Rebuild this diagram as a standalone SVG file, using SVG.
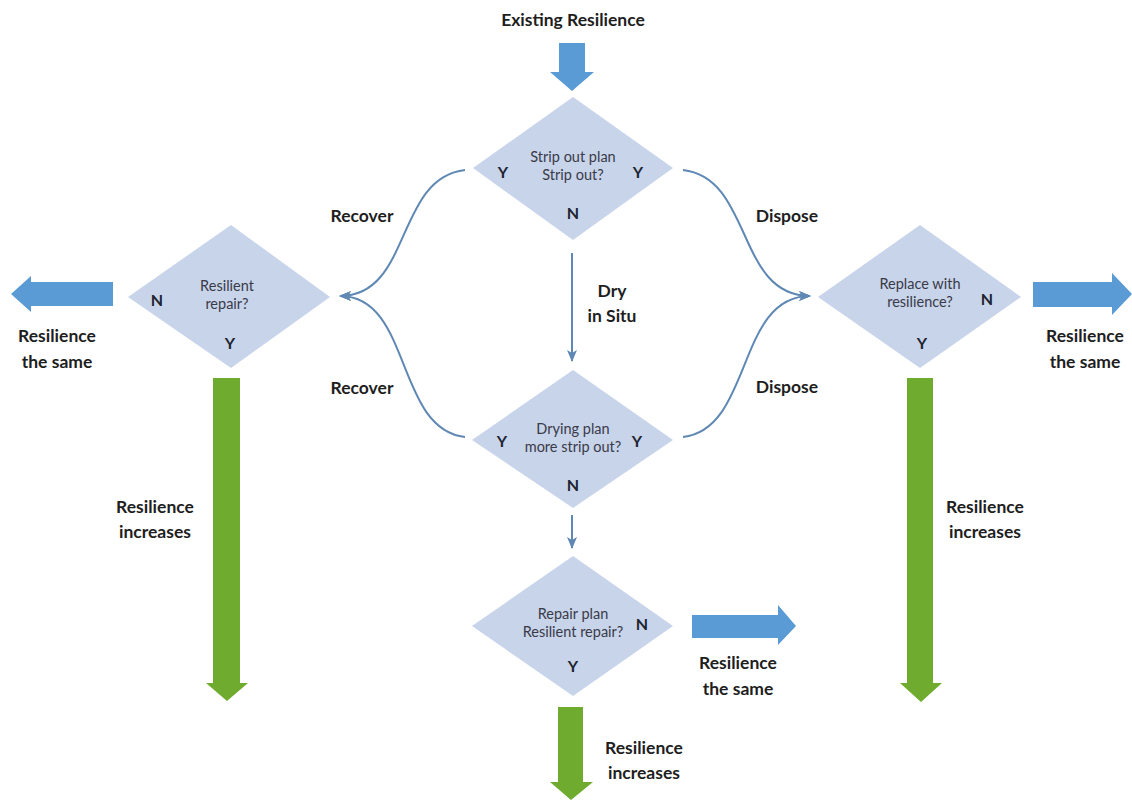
<svg xmlns="http://www.w3.org/2000/svg" width="1132" height="800" viewBox="0 0 1132 800">
<defs>
<style>
.dia{fill:#c7d4ea;}
.lbl{font-family:Lato,"Open Sans","Liberation Sans",sans-serif;font-weight:bold;font-size:17.5px;fill:#1e1e1e;text-anchor:middle;}
.dt{font-family:Lato,"Open Sans","Liberation Sans",sans-serif;font-size:14.5px;fill:#3a3a48;text-anchor:middle;}
.yn{font-family:Lato,"Open Sans","Liberation Sans",sans-serif;font-weight:bold;font-size:16px;fill:#1e2430;text-anchor:middle;}
.con{fill:none;stroke:#5f88b4;stroke-width:2;}
.blue{fill:#5b9bd5;}
.green{fill:#6fab2e;}
</style>
<marker id="ah" viewBox="0 0 12 10" refX="11" refY="5" markerWidth="6" markerHeight="5" orient="auto" markerUnits="strokeWidth">
<path d="M0,0 L12,5 L0,10 L3,5 Z" fill="#5f88b4"/>
</marker>
</defs>
<rect width="1132" height="800" fill="#ffffff"/>

<g id="title">
<text class="lbl" x="573" y="26">Existing Resilience</text>
</g>

<g id="arrows">
<path class="blue" d="M559,43 H585 V72 H594 L572,91 L550,72 H559 Z"/>
<path class="blue" d="M113,282 V306 H31 V312 L11,294 L31,276 V282 Z"/>
<path class="blue" d="M1033,282 V307 H1112 V315 L1132,294 L1112,273 V282 Z"/>
<path class="blue" d="M692,615 V638 H778 V645 L796,626 L778,605 V615 Z"/>
<path class="green" d="M213,378 H240 V683 H248 L227,701 L206,683 H213 Z"/>
<path class="green" d="M907,378 H933 V683 H942 L921,702 L900,683 H907 Z"/>
<path class="green" d="M558,707 H583 V782 H593 L571,800 L550,782 H558 Z"/>
</g>

<g id="connectors">
<path class="con" d="M465,170 C395,178 412,296 340,296" marker-end="url(#ah)"/>
<path class="con" d="M465,437 C395,429 412,296 340,296" marker-end="url(#ah)"/>
<path class="con" d="M683,170 C753,178 736,296 810,296" marker-end="url(#ah)"/>
<path class="con" d="M683,437 C753,429 736,296 810,296" marker-end="url(#ah)"/>
<path class="con" d="M572,253 V361" marker-end="url(#ah)"/>
<path class="con" d="M572,515 V548" marker-end="url(#ah)"/>
</g>

<g id="n-stripout">
<polygon class="dia" points="573,97 673,168 573,240 473,168"/>
<text class="dt" x="573" y="162">Strip out plan</text>
<text class="dt" x="573" y="180">Strip out?</text>
<text class="yn" x="503" y="178">Y</text>
<text class="yn" x="638" y="178">Y</text>
<text class="yn" x="573" y="219">N</text>
</g>

<g id="n-resilient-repair">
<polygon class="dia" points="231,225 330,297 231,368 128,297"/>
<text class="dt" x="227" y="291">Resilient</text>
<text class="dt" x="227" y="309">repair?</text>
<text class="yn" x="157" y="306">N</text>
<text class="yn" x="230" y="349">Y</text>
</g>

<g id="n-replace">
<polygon class="dia" points="920,225 1021,297 920,368 818,297"/>
<text class="dt" x="920" y="289">Replace with</text>
<text class="dt" x="920" y="307">resilience?</text>
<text class="yn" x="987" y="305">N</text>
<text class="yn" x="922" y="349">Y</text>
</g>

<g id="n-drying">
<polygon class="dia" points="573,370 673,440 573,508 472,440"/>
<text class="dt" x="573" y="434">Drying plan</text>
<text class="dt" x="573" y="452">more strip out?</text>
<text class="yn" x="502" y="447">Y</text>
<text class="yn" x="637" y="447">Y</text>
<text class="yn" x="573" y="491">N</text>
</g>

<g id="n-repair">
<polygon class="dia" points="573,556 673,626 573,696 472,626"/>
<text class="dt" x="573" y="619">Repair plan</text>
<text class="dt" x="573" y="637">Resilient repair?</text>
<text class="yn" x="642" y="630">N</text>
<text class="yn" x="573" y="672">Y</text>
</g>

<g id="labels">
<text class="lbl" x="362" y="222">Recover</text>
<text class="lbl" x="362" y="394">Recover</text>
<text class="lbl" x="787" y="222">Dispose</text>
<text class="lbl" x="787" y="393">Dispose</text>
<text class="lbl" x="612" y="297">Dry</text>
<text class="lbl" x="612" y="322">in Situ</text>
<text class="lbl" x="57" y="342">Resilience</text>
<text class="lbl" x="57" y="368">the same</text>
<text class="lbl" x="1085" y="342">Resilience</text>
<text class="lbl" x="1085" y="368">the same</text>
<text class="lbl" x="738" y="669">Resilience</text>
<text class="lbl" x="738" y="695">the same</text>
<text class="lbl" x="155" y="513">Resilience</text>
<text class="lbl" x="155" y="538">increases</text>
<text class="lbl" x="985" y="513">Resilience</text>
<text class="lbl" x="985" y="538">increases</text>
<text class="lbl" x="644" y="754">Resilience</text>
<text class="lbl" x="644" y="779">increases</text>
</g>
</svg>
